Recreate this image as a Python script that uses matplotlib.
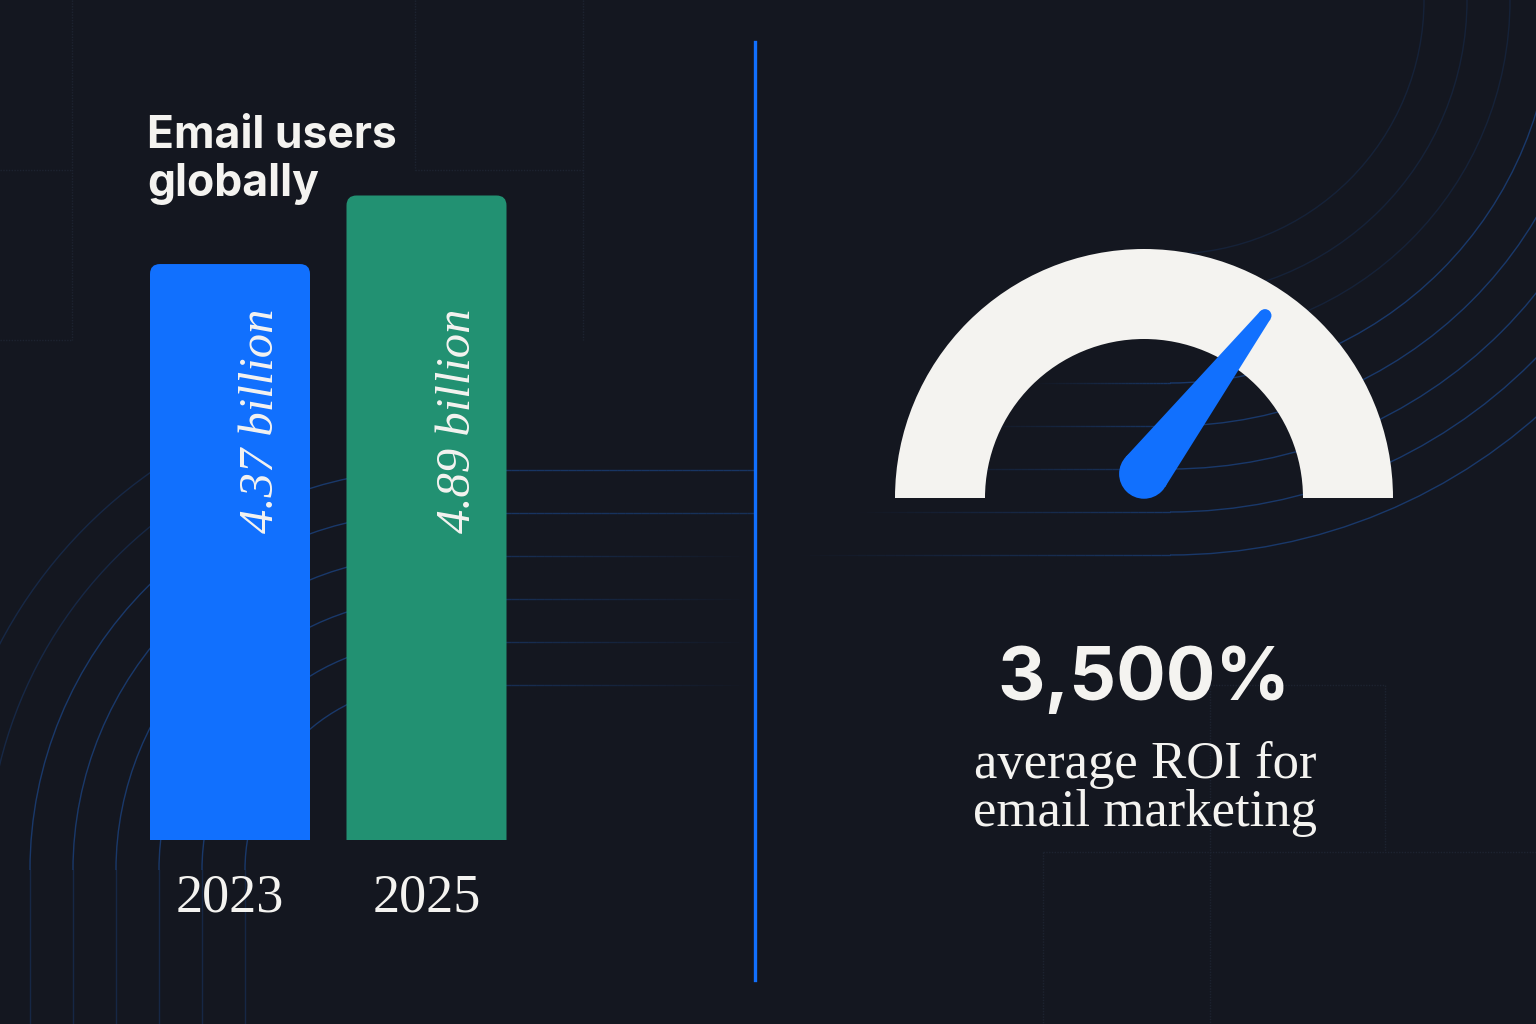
import numpy as np
import matplotlib.pyplot as plt
from matplotlib.patches import FancyBboxPatch, Wedge, Circle, Polygon, Arc
from matplotlib.lines import Line2D
from matplotlib.collections import LineCollection

W, H = 1536, 1024

# chart data
years = ['2023', '2025']
users_billion = [4.37, 4.89]
value_labels = ['4.37 billion', '4.89 billion']
title_lines = ['Email users', 'globally']
roi_value = '3,500%'
roi_caption = ['average ROI for', 'email marketing']

# colours
bg = '#141720'
ink = '#f4f3f0'
blue = '#1170fe'
green = '#229172'
deco = '#1d4f9c'
grid_c = '#1d2330'

serif = 'Liberation Serif'
sans = 'Inter'


def fx(px):
    return px / W


def fy(py):
    return 1 - py / H


fig = plt.figure(figsize=(W / 100, H / 100), dpi=100, facecolor=bg)

# background decoration, pixel space
bgax = fig.add_axes([0, 0, 1, 1], zorder=0)
bgax.set_xlim(0, W)
bgax.set_ylim(H, 0)
bgax.axis('off')


def fade_line(ax, x0, x1, y, a0, a1, n=40):
    xs = np.linspace(x0, x1, n + 1)
    segs = [[(xs[k], y), (xs[k + 1], y)] for k in range(n)]
    alphas = np.linspace(a0, a1, n)
    cols = [(0.11, 0.31, 0.61, a) for a in alphas]
    ax.add_collection(LineCollection(segs, colors=cols, linewidths=1.0))


# left group of rounded lines
lc = (430, 870)
for k, r in enumerate([486, 443, 400, 357, 314, 271, 228, 185]):
    a = 0.3 if k < 2 else 0.6
    bgax.add_patch(Arc(lc, 2 * r, 2 * r, theta1=180, theta2=270 if k >= 2 else 235,
                       color=deco, lw=1.0, alpha=a))
    if k >= 2:
        bgax.plot([lc[0] - r, lc[0] - r], [lc[1], H], color=deco, lw=1.0, alpha=a * 0.5)
        fade_line(bgax, lc[0], 755, lc[1] - r, 0.55, 0.55 - 0.1 * (k - 2) if k < 4 else 0.0)

# right group of rounded lines
rc = (1170, 0)
for k, r in enumerate([254, 297, 340, 383, 426, 469, 512, 555]):
    a = 0.2 if k < 3 else 0.6
    bgax.add_patch(Arc(rc, 2 * r, 2 * r, theta1=0, theta2=90, color=deco, lw=1.0, alpha=a))
    if k >= 3:
        fade_line(bgax, 790 + 60 * (7 - k), rc[0], rc[1] + r, 0.0, 0.55)

# faint grid boxes
for xs, ys in [([72, 72], [0, 340]), ([0, 72], [170, 170]), ([0, 72], [340, 340]),
               ([415, 415], [0, 170]), ([583, 583], [0, 340]), ([415, 583], [170, 170]),
               ([1210, 1385], [685, 685]), ([1385, 1385], [685, 852]),
               ([1043, 1536], [852, 852]), ([1043, 1043], [852, 1024]),
               ([1210, 1210], [685, 1024])]:
    bgax.plot(xs, ys, color=grid_c, lw=1.0, ls=(0, (1, 1)))

# bar chart axes
px_per_unit_x = 196.5
px_per_b = 131.8
ytop = 5.6
left_px = 230 - px_per_unit_x * 0.5
ax = fig.add_axes([fx(left_px), fy(840), 2 * px_per_unit_x / W, ytop * px_per_b / H], zorder=2)
ax.set_facecolor('none')
ax.set_xlim(-0.5, 1.5)
ax.set_ylim(0, ytop)

bars = ax.bar(range(len(years)), users_billion, width=160 / px_per_unit_x,
              color=[blue, green])
rx = 10 / px_per_unit_x
ry = 10 / px_per_b
for b in bars:
    b.set_visible(False)
    ax.add_patch(FancyBboxPatch((b.get_x(), -1), b.get_width(), b.get_height() + 1,
                                boxstyle=f'round,pad=0,rounding_size={rx}',
                                mutation_aspect=ry / rx, fc=b.get_facecolor(), ec='none'))

for i, lab in enumerate(value_labels):
    ax.text(i + 0.16, 4.03, lab, rotation=90, ha='center', va='top',
            fontsize=35, style='italic', family=serif, color=ink)

ax.set_xticks(range(len(years)))
ax.set_xticklabels(years, family=serif, fontsize=39, color=ink)
ax.tick_params(axis='x', length=0, pad=24)
ax.set_yticks([])
for s in ax.spines.values():
    s.set_visible(False)

# title
fig.text(fx(147), fy(148), title_lines[0], ha='left', va='baseline',
         family=sans, weight='bold', fontsize=32, color=ink)
fig.text(fx(147), fy(196), title_lines[1], ha='left', va='baseline',
         family=sans, weight='bold', fontsize=32, color=ink)

# divider
fig.add_artist(Line2D([fx(755), fx(755)], [fy(42), fy(980)], color=blue, lw=2.4))

# gauge
R = 249
gcx, gcy = 1144, 498
gax = fig.add_axes([fx(gcx - 1.1 * R), fy(gcy + 0.2 * R), 2.2 * R / W, 1.3 * R / H], zorder=2)
gax.set_xlim(-1.1, 1.1)
gax.set_ylim(-0.2, 1.1)
gax.axis('off')
gax.add_patch(Wedge((0, 0), 1, 0, 180, width=1 - 159 / R, fc=ink, ec='none'))

ang = np.radians(52.6)
c1 = np.array([0.0, 0.097])
r1 = 0.1
c2 = c1 + 0.80 * np.array([np.cos(ang), np.sin(ang)])
r2 = 0.026
u = (c2 - c1) / np.linalg.norm(c2 - c1)
v = np.array([-u[1], u[0]])
beta = np.arccos((r1 - r2) / np.linalg.norm(c2 - c1))
pts = []
for sgn in (1, -1):
    n = np.cos(beta) * u + sgn * np.sin(beta) * v
    pts.append((c1 + r1 * n, c2 + r2 * n))
poly = [pts[0][0], pts[0][1], pts[1][1], pts[1][0]]
gax.add_patch(Polygon(poly, closed=True, fc=blue, ec='none'))
gax.add_patch(Circle(c1, r1, fc=blue, ec='none'))
gax.add_patch(Circle(c2, r2, fc=blue, ec='none'))

# ROI text
fig.text(fx(1144), fy(700), roi_value, ha='center', va='baseline',
         family=sans, weight='bold', fontsize=53, color=ink)
fig.text(fx(1145), fy(778), roi_caption[0], ha='center', va='baseline',
         family=serif, fontsize=38, color=ink)
fig.text(fx(1145), fy(826), roi_caption[1], ha='center', va='baseline',
         family=serif, fontsize=38, color=ink)

fig.savefig('out.png', dpi=100, facecolor=bg)
